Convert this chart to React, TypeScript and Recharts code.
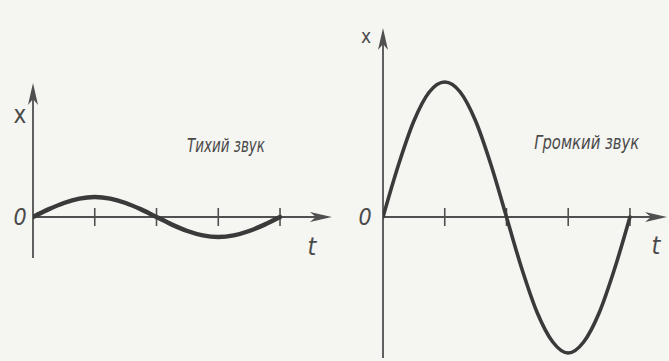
import React from 'react';
import { LineChart, Line, XAxis, YAxis, ReferenceLine, ReferenceDot } from 'recharts';

// time samples (one full period = 4 tick units)
const tValues = [0, 0.25, 0.5, 0.75, 1, 1.25, 1.5, 1.75, 2, 2.25, 2.5, 2.75, 3, 3.25, 3.5, 3.75, 4];
// displacement – quiet sound (small amplitude)
const quietX = [0, 0.38, 0.7, 0.92, 1, 0.92, 0.7, 0.38, 0, -0.38, -0.7, -0.92, -1, -0.92, -0.7, -0.38, 0];
// displacement – loud sound (large amplitude)
const loudX = [0, 2.6, 4.8, 6.25, 6.75, 6.25, 4.8, 2.6, 0, -2.6, -4.8, -6.25, -6.8, -6.25, -4.8, -2.6, 0];
const tickTimes = [1, 2, 3, 4];
const titles = ['Тихий звук', 'Громкий звук'];
const axisLabels = { x: 'x', zero: '0', t: 't' };

const quietData = tValues.map((t, i) => ({ t, x: quietX[i] }));
const loudData = tValues.map((t, i) => ({ t, x: loudX[i] }));

const INK = '#3a3a3a';
const AXIS = '#505050';
const TEXT = '#4a4a4a';
const FONT = "'Liberation Sans Narrow', 'DejaVu Sans Condensed', 'Liberation Sans', sans-serif";

const arrowRight = (p: any) => (
  <polygon
    points={`${p.cx},${p.cy} ${p.cx - 22},${p.cy - 5} ${p.cx - 16},${p.cy} ${p.cx - 22},${p.cy + 5}`}
    fill={AXIS}
  />
);
const arrowUp = (p: any) => (
  <polygon
    points={`${p.cx},${p.cy} ${p.cx - 5},${p.cy + 22} ${p.cx},${p.cy + 16} ${p.cx + 5},${p.cy + 22}`}
    fill={AXIS}
  />
);
const textAt = (txt: string, dx: number, dy: number, size: number, italic: boolean, len?: number) => (p: any) => (
  <text
    x={p.cx + dx}
    y={p.cy + dy}
    textAnchor="middle"
    dominantBaseline="central"
    fontFamily={FONT}
    fontSize={size}
    fontStyle={italic ? 'italic' : 'normal'}
    fill={TEXT}
    textLength={len}
    lengthAdjust={len ? 'spacingAndGlyphs' : undefined}
  >
    {txt}
  </text>
);

type PanelProps = {
  data: { t: number; x: number }[];
  width: number;
  margin: any;
  xDomain: [number, number];
  yDomain: [number, number];
  xEnd: number;
  yTop: number;
  yBottom: number;
  curveWidth: number;
  title: string;
  titleX: number;
  titleY: number;
  titleLen: number;
  xLab: [number, number];
  xLabSize: number;
  zeroLab: [number, number];
  tLab: [number, number];
};

function Panel(props: PanelProps) {
  const { data, width, margin, xDomain, yDomain, xEnd, yTop, yBottom, curveWidth } = props;
  return (
    <LineChart width={width} height={361} margin={margin} data={data}>
      <XAxis dataKey="t" type="number" domain={xDomain} hide allowDataOverflow />
      <YAxis type="number" domain={yDomain} hide allowDataOverflow />
      <ReferenceLine segment={[{ x: 0, y: 0 }, { x: xEnd - 0.2, y: 0 }]} stroke={AXIS} strokeWidth={1.8} ifOverflow="visible" />
      <ReferenceLine segment={[{ x: 0, y: yBottom }, { x: 0, y: yTop - 0.6 }]} stroke={AXIS} strokeWidth={1.8} ifOverflow="visible" />
      {tickTimes.map((k) => (
        <ReferenceLine key={k} segment={[{ x: k, y: -0.45 }, { x: k, y: 0.45 }]} stroke={AXIS} strokeWidth={1.6} ifOverflow="visible" />
      ))}
      <ReferenceDot x={xEnd} y={0} r={0} shape={arrowRight} ifOverflow="visible" />
      <ReferenceDot x={0} y={yTop} r={0} shape={arrowUp} ifOverflow="visible" />
      <ReferenceDot x={0} y={yTop} r={0} shape={textAt(axisLabels.x, props.xLab[0], props.xLab[1], props.xLabSize, false)} ifOverflow="visible" />
      <ReferenceDot x={0} y={0} r={0} shape={textAt(axisLabels.zero, props.zeroLab[0], props.zeroLab[1], 23, true)} ifOverflow="visible" />
      <ReferenceDot x={xEnd} y={0} r={0} shape={textAt(axisLabels.t, props.tLab[0], props.tLab[1], 25, true)} ifOverflow="visible" />
      <ReferenceDot x={props.titleX} y={props.titleY} r={0} shape={textAt(props.title, 0, 0, 19, true, props.titleLen)} ifOverflow="visible" />
      <Line
        type="monotone"
        dataKey="x"
        stroke={INK}
        strokeWidth={curveWidth}
        dot={false}
        strokeLinecap="round"
        isAnimationActive={false}
      />
    </LineChart>
  );
}

export default function App() {
  return (
    <div style={{ position: 'absolute', left: 0, top: 0, width: 669, height: 361, background: '#f5f5f2', overflow: 'hidden' }}>
      <div style={{ position: 'absolute', left: 0, top: 0 }}>
        <Panel
          data={quietData}
          width={345}
          margin={{ top: 77, left: 33, right: 9.4, bottom: 100 }}
          xDomain={[0, 4.9]}
          yDomain={[-2.2, 7]}
          xEnd={4.84}
          yTop={6.7}
          yBottom={-2.05}
          curveWidth={4.5}
          title={titles[0]}
          titleX={3.125}
          titleY={3.6}
          titleLen={78}
          xLab={[-13, 32]}
          xLabSize={24}
          zeroLab={[-13, 0]}
          tLab={[-20, 29]}
        />
      </div>
      <div style={{ position: 'absolute', left: 350, top: 0 }}>
        <Panel
          data={loudData}
          width={319}
          margin={{ top: 25, left: 33, right: 2, bottom: 0 }}
          xDomain={[0, 4.6]}
          yDomain={[-7.2, 9.6]}
          xEnd={4.6}
          yTop={9.45}
          yBottom={-7.05}
          curveWidth={3.6}
          title={titles[1]}
          titleX={3.3}
          titleY={3.75}
          titleLen={105}
          xLab={[-17, 8]}
          xLabSize={19}
          zeroLab={[-18, 0]}
          tLab={[-11, 28]}
        />
      </div>
    </div>
  );
}
